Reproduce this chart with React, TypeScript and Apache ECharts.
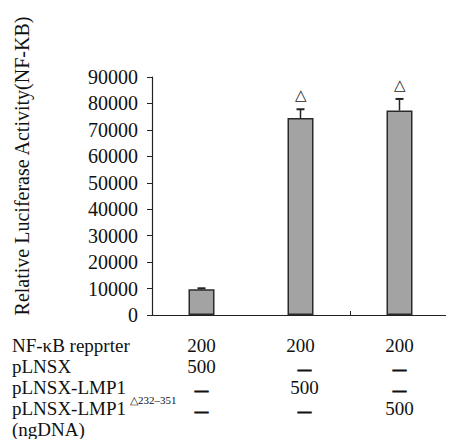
import React, { useEffect, useRef } from "react";
import * as echarts from "echarts";

const categories = ["pLNSX", "pLNSX-LMP1", "pLNSX-LMP1△232–351"];
const values = [9700, 74500, 77300];
const errors = [400, 3300, 4400];
const marks = ["", "△", "△"];
const yMin = 0;
const yMax = 90000;
const yInterval = 10000;
const yTitle = "Relative Luciferase Activity(NF-KB)";
const rowLabels = ["NF-κB repprter", "pLNSX", "pLNSX-LMP1", "pLNSX-LMP1", "(ngDNA)"];
const rowReporter = ["200", "200", "200"];
const rowPLNSX = ["500", "—", "—"];
const rowLMP1 = ["—", "500", "—"];
const rowLMP1del = ["—", "—", "500"];
const delSuperscript = "△232–351";

const FONT = "'Liberation Serif', 'Times New Roman', serif";

export default function App() {
  const ref = useRef<HTMLDivElement>(null);
  useEffect(() => {
    if (!ref.current) return;
    const chart = echarts.init(ref.current, null, { renderer: "svg" });
    const option: any = {
      animation: false,
      backgroundColor: "#ffffff",
      grid: { left: 152, right: 5, top: 77, bottom: 132, containLabel: false },
      xAxis: {
        type: "category",
        data: categories,
        boundaryGap: true,
        axisLine: { lineStyle: { color: "#222", width: 1.2 } },
        axisTick: { show: true, inside: true, length: 4, lineStyle: { color: "#222" } },
        axisLabel: { show: false },
        splitLine: { show: false },
      },
      yAxis: {
        type: "value",
        min: yMin,
        max: yMax,
        interval: yInterval,
        axisLine: { show: true, lineStyle: { color: "#222", width: 1.2 } },
        axisTick: { show: true, inside: false, length: 5, lineStyle: { color: "#222" } },
        axisLabel: {
          color: "#111",
          fontFamily: FONT,
          fontSize: 20,
          margin: 14,
          formatter: (v: number) => String(v),
        },
        splitLine: { show: false },
      },
      series: [
        {
          type: "bar",
          data: values,
          barWidth: 26,
          itemStyle: { color: "#a3a3a3", borderColor: "#2a2a2a", borderWidth: 1.5 },
          z: 2,
        },
        {
          type: "custom",
          data: values.map((v, i) => [i, v, errors[i]]),
          z: 3,
          renderItem: (params: any, api: any) => {
            const idx = api.value(0);
            const v = api.value(1);
            const e = api.value(2);
            const mark = marks[params.dataIndex];
            const base = api.coord([idx, v]);
            const top = api.coord([idx, v + e]);
            const children: any[] = [
              {
                type: "line",
                shape: { x1: base[0], y1: base[1], x2: top[0], y2: top[1] },
                style: { stroke: "#222", lineWidth: 1.5 },
              },
              {
                type: "line",
                shape: { x1: top[0] - 4, y1: top[1], x2: top[0] + 4, y2: top[1] },
                style: { stroke: "#222", lineWidth: 2 },
              },
            ];
            if (mark) {
              children.push({
                type: "text",
                x: top[0],
                y: top[1] - 14,
                style: {
                  text: mark,
                  font: `15px ${FONT}`,
                  fill: "#222",
                  textAlign: "center",
                  textVerticalAlign: "middle",
                },
              });
            }
            return { type: "group", children };
          },
        },
      ],
    };
    chart.setOption(option);

    const xs = categories.map((_, i) => chart.convertToPixel({ xAxisIndex: 0 }, i) as number);
    const rowY = [345, 366, 387, 408, 429];
    const font = `19px ${FONT}`;
    const g: any[] = [];
    g.push({
      type: "text",
      x: 22,
      y: 166,
      rotation: Math.PI / 2,
      style: {
        text: yTitle,
        font: `20px ${FONT}`,
        fill: "#111",
        textAlign: "center",
        textVerticalAlign: "middle",
      },
    });
    rowLabels.forEach((t, r) => {
      g.push({
        type: "text",
        x: 12,
        y: rowY[r],
        style: { text: t, font, fill: "#111", textAlign: "left", textVerticalAlign: "middle" },
      });
    });
    g.push({
      type: "text",
      x: 130,
      y: 400,
      style: {
        text: delSuperscript,
        font: `11px ${FONT}`,
        fill: "#111",
        textAlign: "left",
        textVerticalAlign: "middle",
      },
    });
    const rows = [rowReporter, rowPLNSX, rowLMP1, rowLMP1del];
    rows.forEach((row, r) => {
      row.forEach((t, c) => {
        const dash = t === "—";
        g.push({
          type: "text",
          x: xs[c] + (c === 1 && r > 0 ? 4 : 0),
          y: rowY[r] + (dash ? 2 : 0),
          style: dash
            ? {
                text: t,
                font: `bold 13px ${FONT}`,
                fill: "#111",
                stroke: "#111",
                lineWidth: 1.2,
                textAlign: "center",
                textVerticalAlign: "middle",
              }
            : {
                text: t,
                font,
                fill: "#111",
                textAlign: "center",
                textVerticalAlign: "middle",
              },
        });
      });
    });
    chart.setOption({ graphic: g });
    return () => chart.dispose();
  }, []);
  return <div ref={ref} style={{ width: 454, height: 447, margin: -8 }} />;
}
